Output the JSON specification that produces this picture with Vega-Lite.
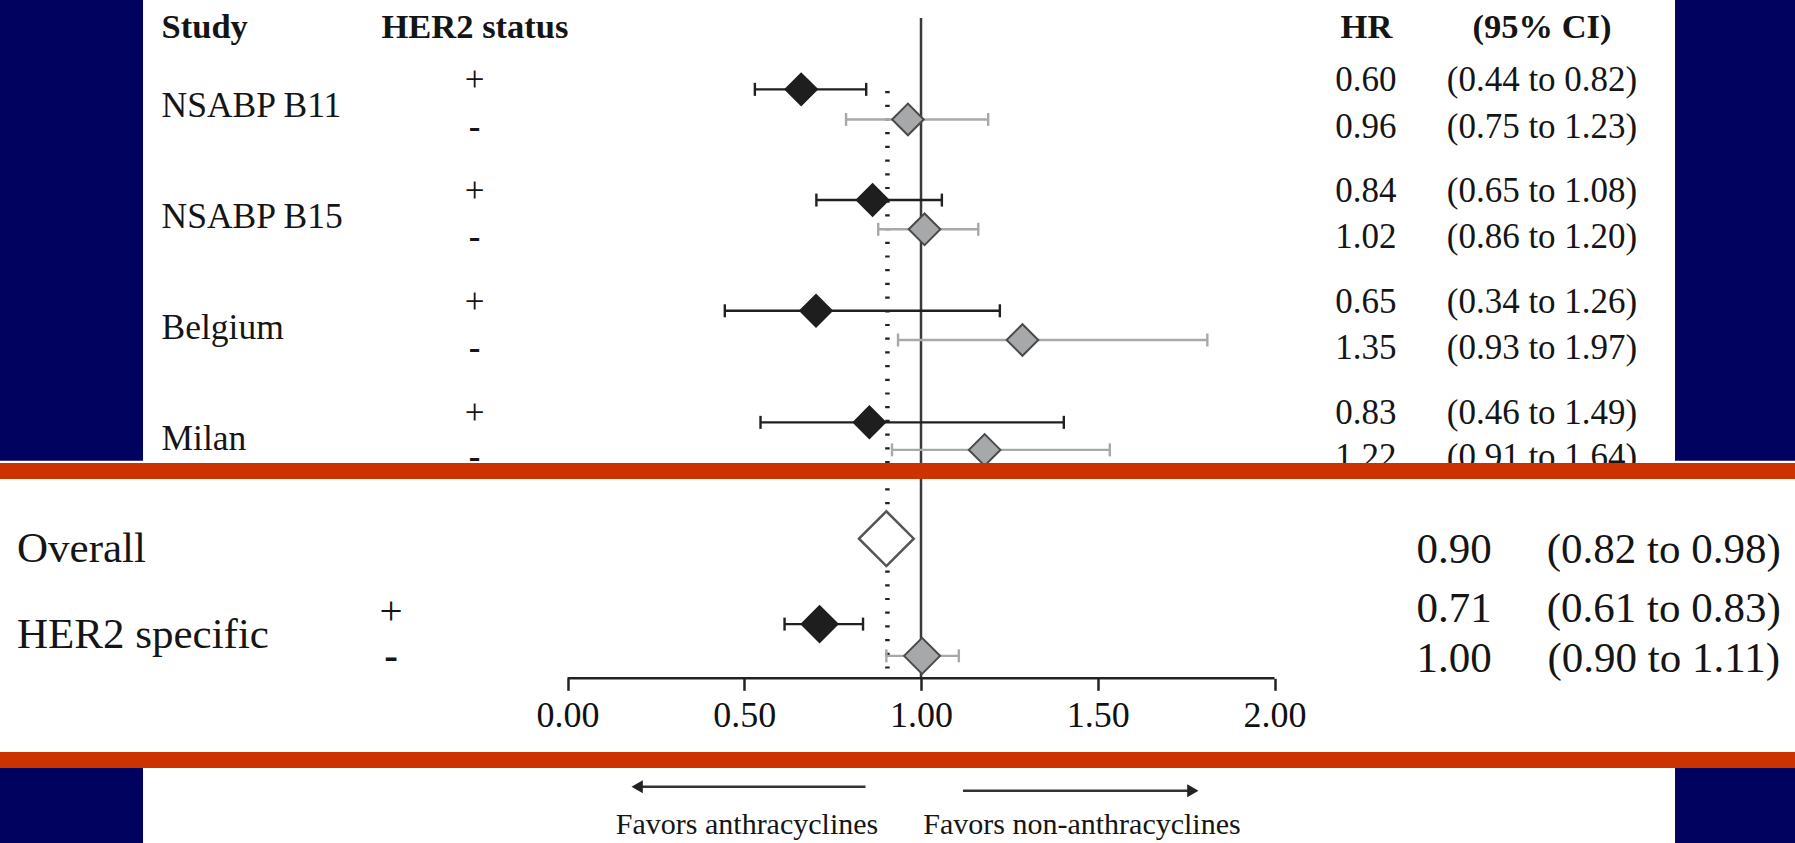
{
  "$schema": "https://vega.github.io/schema/vega-lite/v6.json",
  "width": 1795,
  "height": 843,
  "autosize": {"type": "none"},
  "padding": 0,
  "background": "#010160",
  "config": {"view": {"stroke": null}, "text": {"font": "Liberation Serif", "color": "#151515", "baseline": "alphabetic"}},
  "datasets": {
    "rows": [
      {"section": "trial", "study": "NSABP B11", "her2": "+", "row": 3.18, "est": 0.661, "lo": 0.530, "hi": 0.845, "hr": "0.60", "ci": "(0.44 to 0.82)"},
      {"section": "trial", "study": "NSABP B11", "her2": "-", "row": 4.25, "est": 0.963, "lo": 0.788, "hi": 1.190, "hr": "0.96", "ci": "(0.75 to 1.23)"},
      {"section": "trial", "study": "NSABP B15", "her2": "+", "row": 7.12, "est": 0.863, "lo": 0.704, "hi": 1.059, "hr": "0.84", "ci": "(0.65 to 1.08)"},
      {"section": "trial", "study": "NSABP B15", "her2": "-", "row": 8.16, "est": 1.010, "lo": 0.879, "hi": 1.162, "hr": "1.02", "ci": "(0.86 to 1.20)"},
      {"section": "trial", "study": "Belgium", "her2": "+", "row": 11.06, "est": 0.703, "lo": 0.445, "hi": 1.223, "hr": "0.65", "ci": "(0.34 to 1.26)"},
      {"section": "trial", "study": "Belgium", "her2": "-", "row": 12.10, "est": 1.287, "lo": 0.935, "hi": 1.810, "hr": "1.35", "ci": "(0.93 to 1.97)"},
      {"section": "trial", "study": "Milan", "her2": "+", "row": 15.03, "est": 0.854, "lo": 0.546, "hi": 1.404, "hr": "0.83", "ci": "(0.46 to 1.49)"},
      {"section": "trial", "study": "Milan", "her2": "-", "row": 16.01, "est": 1.180, "lo": 0.918, "hi": 1.534, "hr": "1.22", "ci": "(0.91 to 1.64)"},
      {"section": "pooled", "study": "Overall", "her2": "all", "row": 19.17, "est": 0.902, "hr": "0.90", "ci": "(0.82 to 0.98)"},
      {"section": "pooled", "study": "HER2 specific", "her2": "+", "row": 22.21, "est": 0.713, "lo": 0.614, "hi": 0.836, "hr": "0.71", "ci": "(0.61 to 0.83)"},
      {"section": "pooled", "study": "HER2 specific", "her2": "-", "row": 23.34, "est": 1.003, "lo": 0.902, "hi": 1.107, "hr": "1.00", "ci": "(0.90 to 1.11)"}
    ]
  },
  "data": {"name": "rows"},
  "layer": [
    {
      "data": {"values": [{}]},
      "mark": {"type": "rect", "color": "#ffffff"},
      "encoding": {
        "x": {"datum": -1.2008, "type": "quantitative",
          "scale": {"domain": [-1.6054, 3.4724], "nice": false, "zero": false},
          "axis": {"orient": "bottom", "offset": -164.7, "domain": false, "grid": false, "values": [0, 0.5, 1, 1.5, 2], "format": ".2f", "tickSize": 12, "tickWidth": 2.5, "tickColor": "#222222", "labelFont": "Liberation Serif", "labelFontSize": 36, "labelColor": "#111111", "labelPadding": 8, "title": null, "labelFlush": false, "labelOverlap": false, "zindex": 1}},
        "x2": {"datum": 3.133},
        "y": {"datum": 0, "type": "quantitative", "scale": {"domain": [0, 30], "reverse": true, "nice": false, "zero": false}, "axis": null},
        "y2": {"datum": 16.6}
      }
    },
    {
      "data": {"values": [{}]},
      "mark": {"type": "rect", "color": "#ffffff"},
      "encoding": {"x": {"datum": -1.6054}, "x2": {"datum": 3.4724}, "y": {"datum": 16.4}, "y2": {"datum": 26.8}}
    },
    {
      "data": {"values": [{}]},
      "mark": {"type": "rect", "color": "#ffffff"},
      "encoding": {"x": {"datum": -1.2008}, "x2": {"datum": 3.133}, "y": {"datum": 27.2}, "y2": {"datum": 30}}
    },
    {
      "data": {"values": [{}]},
      "mark": {"type": "rule", "color": "#3a3a3a", "strokeWidth": 2.5},
      "encoding": {"x": {"datum": 1}, "y": {"datum": 0.641}, "y2": {"datum": 24.139}}
    },
    {
      "data": {"values": [{}]},
      "mark": {"type": "rule", "color": "#222222", "strokeWidth": 4.5, "strokeDash": [2.2, 11.5]},
      "encoding": {"x": {"datum": 0.905}, "y": {"datum": 3.238}, "y2": {"datum": 24.139}}
    },
    {
      "data": {"values": [{}]},
      "mark": {"type": "rule", "color": "#222222", "strokeWidth": 2.5},
      "encoding": {"x": {"datum": 0}, "x2": {"datum": 2}, "y": {"datum": 24.139}}
    },
    {
      "transform": [{"filter": "isValid(datum.lo)"}],
      "mark": {"type": "rule", "strokeWidth": 2.4, "opacity": 1},
      "encoding": {
        "x": {"field": "lo", "type": "quantitative"},
        "x2": {"field": "hi"},
        "y": {"field": "row", "type": "quantitative"},
        "color": {"field": "her2", "type": "nominal", "scale": {"domain": ["+", "-", "all"], "range": ["#202020", "#A8A8A8", "#555555"]}, "legend": null}
      }
    },
    {
      "transform": [{"filter": "isValid(datum.lo)"}],
      "mark": {"type": "tick", "orient": "vertical", "size": 13, "thickness": 2.4, "opacity": 1},
      "encoding": {
        "x": {"field": "lo", "type": "quantitative"},
        "y": {"field": "row", "type": "quantitative"},
        "color": {"field": "her2", "type": "nominal", "legend": null}
      }
    },
    {
      "transform": [{"filter": "isValid(datum.hi)"}],
      "mark": {"type": "tick", "orient": "vertical", "size": 13, "thickness": 2.4, "opacity": 1},
      "encoding": {
        "x": {"field": "hi", "type": "quantitative"},
        "y": {"field": "row", "type": "quantitative"},
        "color": {"field": "her2", "type": "nominal", "legend": null}
      }
    },
    {
      "transform": [{"filter": "datum.section == 'trial'"}],
      "mark": {"type": "point", "shape": "diamond", "filled": true, "size": 1000, "strokeWidth": 2, "opacity": 1},
      "encoding": {
        "x": {"field": "est", "type": "quantitative"},
        "y": {"field": "row", "type": "quantitative"},
        "fill": {"field": "her2", "type": "nominal", "scale": {"domain": ["+", "-", "all"], "range": ["#1E1E1E", "#A7A8AA", "#FFFFFF"]}, "legend": null},
        "stroke": {"field": "her2", "type": "nominal", "scale": {"domain": ["+", "-", "all"], "range": ["#1E1E1E", "#4A4A4A", "#555555"]}, "legend": null}
      }
    },
    {
      "transform": [{"filter": "datum.her2 == 'all'"}],
      "mark": {"type": "point", "shape": "diamond", "filled": true, "size": 3000, "strokeWidth": 2.5, "opacity": 1},
      "encoding": {
        "x": {"field": "est", "type": "quantitative"},
        "y": {"field": "row", "type": "quantitative"},
        "fill": {"field": "her2", "type": "nominal", "legend": null},
        "stroke": {"field": "her2", "type": "nominal", "legend": null}
      }
    },
    {
      "transform": [{"filter": "datum.section == 'pooled' && datum.her2 != 'all'"}],
      "mark": {"type": "point", "shape": "diamond", "filled": true, "size": 1300, "strokeWidth": 2, "opacity": 1},
      "encoding": {
        "x": {"field": "est", "type": "quantitative"},
        "y": {"field": "row", "type": "quantitative"},
        "fill": {"field": "her2", "type": "nominal", "legend": null},
        "stroke": {"field": "her2", "type": "nominal", "legend": null}
      }
    },
    {
      "data": {"values": [{}]},
      "mark": {"type": "text", "fontSize": 34.5, "fontWeight": "bold", "align": "left"},
      "encoding": {"x": {"datum": -1.1485}, "y": {"datum": 1.352}, "text": {"value": "Study"}}
    },
    {
      "data": {"values": [{}]},
      "mark": {"type": "text", "fontSize": 34.5, "fontWeight": "bold", "align": "left"},
      "encoding": {"x": {"datum": -0.5262}, "y": {"datum": 1.352}, "text": {"value": "HER2 status"}}
    },
    {
      "data": {"values": [{}]},
      "mark": {"type": "text", "fontSize": 34.5, "fontWeight": "bold", "align": "center"},
      "encoding": {"x": {"datum": 2.26}, "y": {"datum": 1.352}, "text": {"value": "HR"}}
    },
    {
      "data": {"values": [{}]},
      "mark": {"type": "text", "fontSize": 34.5, "fontWeight": "bold", "align": "center"},
      "encoding": {"x": {"datum": 2.7567}, "y": {"datum": 1.352}, "text": {"value": "(95% CI)"}}
    },
    {
      "transform": [{"filter": "datum.section == 'trial' && datum.her2 == '+'"}],
      "mark": {"type": "text", "fontSize": 35.5, "align": "left", "dy": 28},
      "encoding": {"x": {"datum": -1.1485}, "y": {"field": "row", "type": "quantitative"}, "text": {"field": "study"}}
    },
    {
      "transform": [{"filter": "datum.section == 'trial' && datum.her2 == '+'"}],
      "mark": {"type": "text", "fontSize": 35, "align": "center", "dy": 2},
      "encoding": {"x": {"datum": -0.2631}, "y": {"field": "row", "type": "quantitative"}, "text": {"field": "her2"}}
    },
    {
      "transform": [{"filter": "datum.section == 'trial' && datum.her2 == '-'"}],
      "mark": {"type": "text", "fontSize": 35, "fontWeight": "bold", "align": "center", "dy": 18.6},
      "encoding": {"x": {"datum": -0.2631}, "y": {"field": "row", "type": "quantitative"}, "text": {"field": "her2"}}
    },
    {
      "transform": [{"filter": "datum.section == 'trial' && datum.her2 == '+'"}],
      "mark": {"type": "text", "fontSize": 35, "align": "center", "dy": 2},
      "encoding": {"x": {"datum": 2.2588}, "y": {"field": "row", "type": "quantitative"}, "text": {"field": "hr"}}
    },
    {
      "transform": [{"filter": "datum.section == 'trial' && datum.her2 == '-'"}],
      "mark": {"type": "text", "fontSize": 35, "align": "center", "dy": 18.6},
      "encoding": {"x": {"datum": 2.2588}, "y": {"field": "row", "type": "quantitative"}, "text": {"field": "hr"}}
    },
    {
      "transform": [{"filter": "datum.section == 'trial' && datum.her2 == '+'"}],
      "mark": {"type": "text", "fontSize": 35, "align": "center", "dy": 2},
      "encoding": {"x": {"datum": 2.7567}, "y": {"field": "row", "type": "quantitative"}, "text": {"field": "ci"}}
    },
    {
      "transform": [{"filter": "datum.section == 'trial' && datum.her2 == '-'"}],
      "mark": {"type": "text", "fontSize": 35, "align": "center", "dy": 18.6},
      "encoding": {"x": {"datum": 2.7567}, "y": {"field": "row", "type": "quantitative"}, "text": {"field": "ci"}}
    },
    {
      "transform": [{"filter": "datum.section == 'pooled' && datum.her2 != '-'"}],
      "mark": {"type": "text", "fontSize": 43, "align": "left", "dy": 23.5},
      "encoding": {"x": {"datum": -1.5573}, "y": {"field": "row", "type": "quantitative"}, "text": {"field": "study"}}
    },
    {
      "transform": [{"filter": "datum.section == 'pooled' && datum.her2 == '+'"}],
      "mark": {"type": "text", "fontSize": 41, "align": "center", "dy": 0},
      "encoding": {"x": {"datum": -0.4993}, "y": {"field": "row", "type": "quantitative"}, "text": {"field": "her2"}}
    },
    {
      "transform": [{"filter": "datum.section == 'pooled' && datum.her2 == '-'"}],
      "mark": {"type": "text", "fontSize": 41, "fontWeight": "bold", "align": "center", "dy": 13},
      "encoding": {"x": {"datum": -0.4993}, "y": {"field": "row", "type": "quantitative"}, "text": {"field": "her2"}}
    },
    {
      "transform": [{"filter": "datum.her2 == 'all'"}],
      "mark": {"type": "text", "fontSize": 43, "align": "center", "dy": 24.3},
      "encoding": {"x": {"datum": 2.5078}, "y": {"field": "row", "type": "quantitative"}, "text": {"field": "hr"}}
    },
    {
      "transform": [{"filter": "datum.her2 == 'all'"}],
      "mark": {"type": "text", "fontSize": 43, "align": "center", "dy": 24.3},
      "encoding": {"x": {"datum": 3.101}, "y": {"field": "row", "type": "quantitative"}, "text": {"field": "ci"}}
    },
    {
      "transform": [{"filter": "datum.section == 'pooled' && datum.her2 == '+'"}],
      "mark": {"type": "text", "fontSize": 43, "align": "center", "dy": -2},
      "encoding": {"x": {"datum": 2.5078}, "y": {"field": "row", "type": "quantitative"}, "text": {"field": "hr"}}
    },
    {
      "transform": [{"filter": "datum.section == 'pooled' && datum.her2 == '+'"}],
      "mark": {"type": "text", "fontSize": 43, "align": "center", "dy": -2},
      "encoding": {"x": {"datum": 3.101}, "y": {"field": "row", "type": "quantitative"}, "text": {"field": "ci"}}
    },
    {
      "transform": [{"filter": "datum.section == 'pooled' && datum.her2 == '-'"}],
      "mark": {"type": "text", "fontSize": 43, "align": "center", "dy": 16.3},
      "encoding": {"x": {"datum": 2.5078}, "y": {"field": "row", "type": "quantitative"}, "text": {"field": "hr"}}
    },
    {
      "transform": [{"filter": "datum.section == 'pooled' && datum.her2 == '-'"}],
      "mark": {"type": "text", "fontSize": 43, "align": "center", "dy": 16.3},
      "encoding": {"x": {"datum": 3.101}, "y": {"field": "row", "type": "quantitative"}, "text": {"field": "ci"}}
    },
    {
      "data": {"values": [{}]},
      "mark": {"type": "rule", "color": "#333333", "strokeWidth": 2.5},
      "encoding": {"x": {"datum": 0.19}, "x2": {"datum": 0.843}, "y": {"datum": 28.0}}
    },
    {
      "data": {"values": [{}]},
      "mark": {"type": "point", "shape": "triangle-left", "filled": true, "size": 170, "color": "#222222", "opacity": 1},
      "encoding": {"x": {"datum": 0.197}, "y": {"datum": 28.0}}
    },
    {
      "data": {"values": [{}]},
      "mark": {"type": "rule", "color": "#333333", "strokeWidth": 2.5},
      "encoding": {"x": {"datum": 1.1188}, "x2": {"datum": 1.775}, "y": {"datum": 28.14}}
    },
    {
      "data": {"values": [{}]},
      "mark": {"type": "point", "shape": "triangle-right", "filled": true, "size": 170, "color": "#222222", "opacity": 1},
      "encoding": {"x": {"datum": 1.769}, "y": {"datum": 28.14}}
    },
    {
      "data": {"values": [{}]},
      "mark": {"type": "text", "fontSize": 30, "align": "center"},
      "encoding": {"x": {"datum": 0.5078}, "y": {"datum": 29.68}, "text": {"value": "Favors anthracyclines"}}
    },
    {
      "data": {"values": [{}]},
      "mark": {"type": "text", "fontSize": 30, "align": "center"},
      "encoding": {"x": {"datum": 1.4554}, "y": {"datum": 29.68}, "text": {"value": "Favors non-anthracyclines"}}
    },
    {
      "data": {"values": [{}]},
      "mark": {"type": "rect", "color": "#CC3300"},
      "encoding": {"x": {"datum": -1.6054}, "x2": {"datum": 3.4724}, "y": {"datum": 16.477}, "y2": {"datum": 17.046}}
    },
    {
      "data": {"values": [{}]},
      "mark": {"type": "rect", "color": "#CC3300"},
      "encoding": {"x": {"datum": -1.6054}, "x2": {"datum": 3.4724}, "y": {"datum": 26.762}, "y2": {"datum": 27.331}}
    }
  ]
}
